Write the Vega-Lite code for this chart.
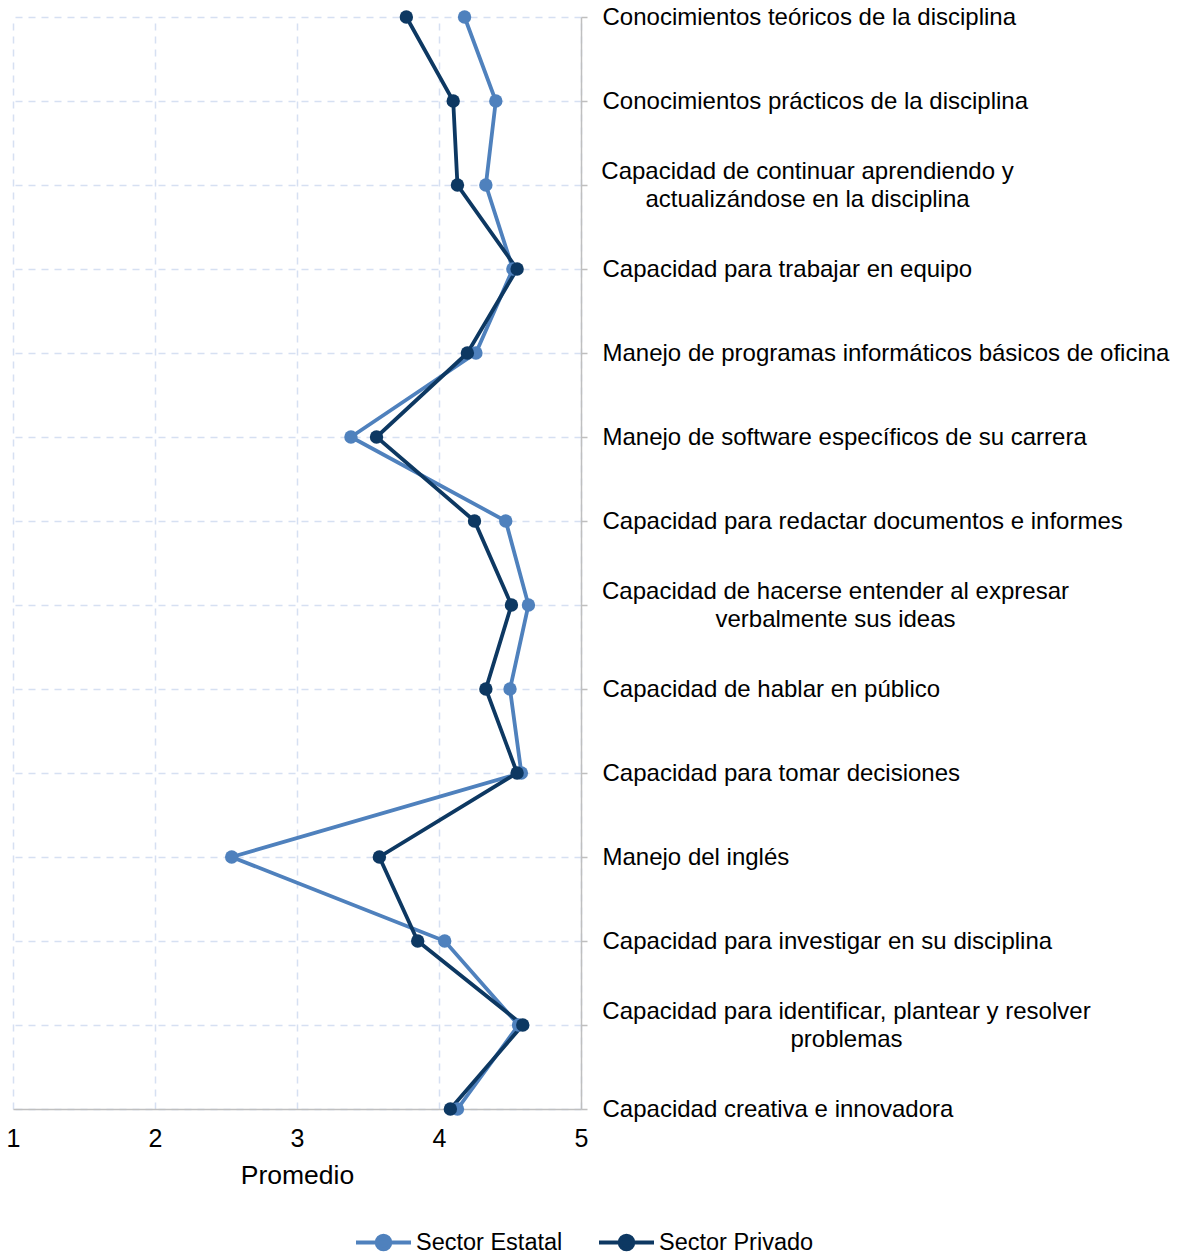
{
  "$schema": "https://vega.github.io/schema/vega-lite/v6.json",
  "autosize": {"type": "none"},
  "padding": {"left": 13, "top": 17, "right": 596, "bottom": 148},
  "width": 568,
  "height": 1092,
  "background": "white",
  "config": {
    "font": "Liberation Sans",
    "view": {"stroke": null}
  },
  "data": {
    "values": [
      {"orden": 1, "competencia": "Conocimientos teóricos de la disciplina", "sector": "Sector Estatal", "promedio": 4.18},
      {"orden": 2, "competencia": "Conocimientos prácticos de la disciplina", "sector": "Sector Estatal", "promedio": 4.40},
      {"orden": 3, "competencia": "Capacidad de continuar aprendiendo y actualizándose en la disciplina", "sector": "Sector Estatal", "promedio": 4.33},
      {"orden": 4, "competencia": "Capacidad para trabajar en equipo", "sector": "Sector Estatal", "promedio": 4.52},
      {"orden": 5, "competencia": "Manejo de programas informáticos básicos de oficina", "sector": "Sector Estatal", "promedio": 4.26},
      {"orden": 6, "competencia": "Manejo de software específicos de su carrera", "sector": "Sector Estatal", "promedio": 3.38},
      {"orden": 7, "competencia": "Capacidad para redactar documentos e informes", "sector": "Sector Estatal", "promedio": 4.47},
      {"orden": 8, "competencia": "Capacidad de hacerse entender al expresar verbalmente sus ideas", "sector": "Sector Estatal", "promedio": 4.63},
      {"orden": 9, "competencia": "Capacidad de hablar en público", "sector": "Sector Estatal", "promedio": 4.50},
      {"orden": 10, "competencia": "Capacidad para tomar decisiones", "sector": "Sector Estatal", "promedio": 4.58},
      {"orden": 11, "competencia": "Manejo del inglés", "sector": "Sector Estatal", "promedio": 2.54},
      {"orden": 12, "competencia": "Capacidad para investigar en su disciplina", "sector": "Sector Estatal", "promedio": 4.04},
      {"orden": 13, "competencia": "Capacidad para identificar, plantear y resolver problemas", "sector": "Sector Estatal", "promedio": 4.56},
      {"orden": 14, "competencia": "Capacidad creativa e innovadora", "sector": "Sector Estatal", "promedio": 4.13},
      {"orden": 1, "competencia": "Conocimientos teóricos de la disciplina", "sector": "Sector Privado", "promedio": 3.77},
      {"orden": 2, "competencia": "Conocimientos prácticos de la disciplina", "sector": "Sector Privado", "promedio": 4.10},
      {"orden": 3, "competencia": "Capacidad de continuar aprendiendo y actualizándose en la disciplina", "sector": "Sector Privado", "promedio": 4.13},
      {"orden": 4, "competencia": "Capacidad para trabajar en equipo", "sector": "Sector Privado", "promedio": 4.55},
      {"orden": 5, "competencia": "Manejo de programas informáticos básicos de oficina", "sector": "Sector Privado", "promedio": 4.20},
      {"orden": 6, "competencia": "Manejo de software específicos de su carrera", "sector": "Sector Privado", "promedio": 3.56},
      {"orden": 7, "competencia": "Capacidad para redactar documentos e informes", "sector": "Sector Privado", "promedio": 4.25},
      {"orden": 8, "competencia": "Capacidad de hacerse entender al expresar verbalmente sus ideas", "sector": "Sector Privado", "promedio": 4.51},
      {"orden": 9, "competencia": "Capacidad de hablar en público", "sector": "Sector Privado", "promedio": 4.33},
      {"orden": 10, "competencia": "Capacidad para tomar decisiones", "sector": "Sector Privado", "promedio": 4.55},
      {"orden": 11, "competencia": "Manejo del inglés", "sector": "Sector Privado", "promedio": 3.58},
      {"orden": 12, "competencia": "Capacidad para investigar en su disciplina", "sector": "Sector Privado", "promedio": 3.85},
      {"orden": 13, "competencia": "Capacidad para identificar, plantear y resolver problemas", "sector": "Sector Privado", "promedio": 4.59},
      {"orden": 14, "competencia": "Capacidad creativa e innovadora", "sector": "Sector Privado", "promedio": 4.08}
    ]
  },
  "mark": {
    "type": "line",
    "strokeWidth": 3.8,
    "clip": false,
    "point": {"filled": true, "size": 180, "opacity": 1}
  },
  "encoding": {
    "x": {
      "field": "promedio",
      "type": "quantitative",
      "scale": {"domain": [1, 5], "nice": false, "zero": false},
      "axis": {
        "values": [1, 2, 3, 4, 5],
        "title": "Promedio",
        "titleFont": "Liberation Sans",
        "titleFontSize": 26.5,
        "titleFontWeight": "normal",
        "titleColor": "#000000",
        "titlePadding": 11,
        "labelFontSize": 25,
        "labelColor": "#000000",
        "labelPadding": 17,
        "labelFlush": false,
        "ticks": false,
        "domainColor": "#bfbfbf",
        "domainWidth": 1.5,
        "grid": true,
        "gridColor": "#d6e0f2",
        "gridDash": [7, 6],
        "gridWidth": 1.5
      }
    },
    "y": {
      "field": "competencia",
      "type": "nominal",
      "sort": {"field": "orden", "op": "min"},
      "scale": {"type": "point", "padding": 0},
      "axis": {
        "orient": "right",
        "title": null,
        "labelFontSize": 24,
        "labelColor": "#000000",
        "labelLimit": 1000,
        "labelLineHeight": 28,
        "labelBaseline": "middle",
        "labelAlign": {
          "condition": {"test": "datum.value == 'Capacidad de continuar aprendiendo y actualizándose en la disciplina' || datum.value == 'Capacidad de hacerse entender al expresar verbalmente sus ideas' || datum.value == 'Capacidad para identificar, plantear y resolver problemas'", "value": "center"},
          "value": "left"
        },
        "labelPadding": {
          "condition": [
            {"test": "datum.value == 'Capacidad de continuar aprendiendo y actualizándose en la disciplina'", "value": 220},
            {"test": "datum.value == 'Capacidad de hacerse entender al expresar verbalmente sus ideas'", "value": 248},
            {"test": "datum.value == 'Capacidad para identificar, plantear y resolver problemas'", "value": 259}
          ],
          "value": 15
        },
        "labelOffset": {
          "condition": {"test": "datum.value == 'Capacidad de continuar aprendiendo y actualizándose en la disciplina' || datum.value == 'Capacidad de hacerse entender al expresar verbalmente sus ideas' || datum.value == 'Capacidad para identificar, plantear y resolver problemas'", "value": -14},
          "value": 0
        },
        "tickSize": 6,
        "tickColor": "#bfbfbf",
        "tickWidth": 1.5,
        "domainColor": "#bfbfbf",
        "domainWidth": 1.5,
        "grid": true,
        "gridColor": "#d6e0f2",
        "gridDash": [7, 6],
        "gridWidth": 1.5,
        "labelExpr": "datum.value == 'Capacidad de continuar aprendiendo y actualizándose en la disciplina' ? ['Capacidad de continuar aprendiendo y', 'actualizándose en la disciplina'] : datum.value == 'Capacidad de hacerse entender al expresar verbalmente sus ideas' ? ['Capacidad de hacerse entender al expresar', 'verbalmente sus ideas'] : datum.value == 'Capacidad para identificar, plantear y resolver problemas' ? ['Capacidad para identificar, plantear y resolver', 'problemas'] : datum.label"
      }
    },
    "color": {
      "field": "sector",
      "type": "nominal",
      "scale": {"domain": ["Sector Estatal", "Sector Privado"], "range": ["#4F81BD", "#0D3862"]},
      "legend": {
        "title": null,
        "orient": "none",
        "direction": "horizontal",
        "legendX": 341,
        "legendY": 1196,
        "labelFontSize": 23.5,
        "labelColor": "#000000",
        "labelOffset": 3,
        "labelLimit": 400,
        "columnPadding": 28,
        "symbolType": "M-1,0H1M-0.25,0A0.25,0.25,0,1,0,0.25,0A0.25,0.25,0,1,0,-0.25,0Z",
        "symbolSize": 3025,
        "symbolStrokeWidth": 3.8,
        "symbolOpacity": 1,
        "encode": {
          "symbols": {
            "update": {
              "fill": {"scale": "color", "field": "value"},
              "stroke": {"scale": "color", "field": "value"}
            }
          }
        }
      }
    },
    "order": {"field": "orden", "type": "quantitative"}
  }
}
